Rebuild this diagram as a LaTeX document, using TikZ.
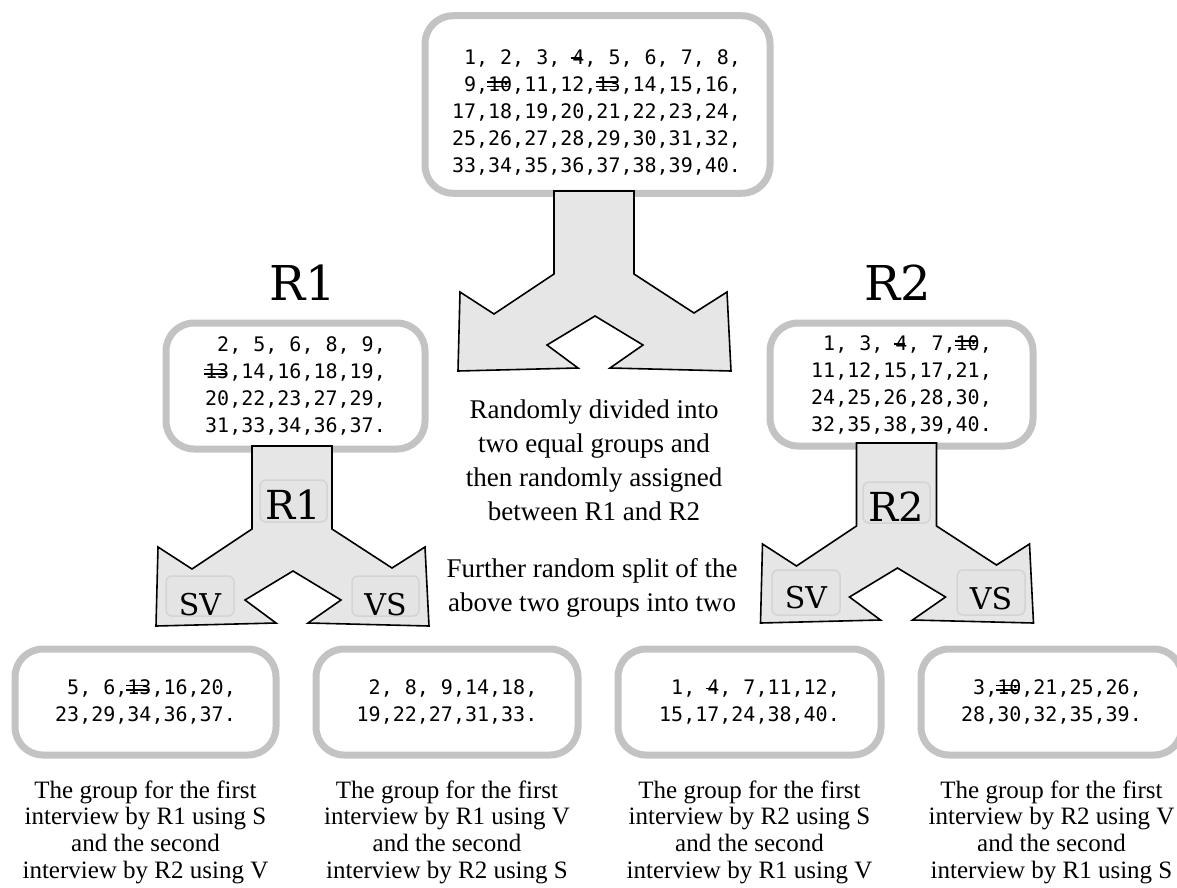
\documentclass[tikz,border=0pt]{standalone}
\usepackage{fontspec}
\setmainfont{Liberation Serif}
\setmonofont{DejaVu Sans Mono}
\newfontfamily\tagfont{DejaVu Serif}

\definecolor{boxgray}{RGB}{195,195,195}
\definecolor{arrowfill}{RGB}{230,230,230}
\definecolor{tagedge}{RGB}{212,212,212}
\definecolor{tagfill}{RGB}{228,228,228}

% crossed-out numbers
\newcommand\dblstrike[1]{\rlap{\kern-0.05em\rule[0.2em]{1.1em}{0.07em}}\rlap{\kern-0.05em\rule[0.42em]{1.1em}{0.07em}}#1}
\newcommand\onestrike[1]{\rlap{\kern-0.05em\rule[0.27em]{0.55em}{0.07em}}#1}
\newcommand\lead{\hphantom{0}}

\tikzset{
    pics/splitarrow/.style={code={
        \draw[arrowbody] (-40,0) -- (-40,83) -- (-100,123) -- (-134,101) -- (-136,180)
            -- (-16,177) -- (-47,154) -- (1,125) -- (49,154) -- (16,177)
            -- (137,180) -- (133,101) -- (100,122) -- (40,83) -- (40,0) -- cycle;
    }}
}

\begin{document}
\begin{tikzpicture}[
        x=1pt, y=-1pt,
        groupbox/.style={draw=boxgray, line width=7pt, rounded corners=28pt, fill=white, inner sep=0pt},
        numtext/.style={font=\ttfamily\fontsize{20}{27}\selectfont, align=left},
        arrowbody/.style={draw=black, line width=1.6pt, fill=arrowfill, line join=miter},
        tagbox/.style={draw=tagedge, line width=1.5pt, rounded corners=6pt, fill=tagfill},
        tagtext/.style={inner sep=0pt, font=\tagfont\fontsize{30}{30}\selectfont},
        bigname/.style={inner sep=0pt, font=\tagfont\fontsize{48}{48}\selectfont},
        midtext/.style={align=center, inner sep=0pt, font=\fontsize{27}{34}\selectfont},
        captext/.style={align=center, inner sep=0pt, font=\fontsize{25}{26.7}\selectfont}
    ]
        \useasboundingbox (0,0) rectangle (1177,888);

        % All forty
        \node[groupbox, minimum width=345pt, minimum height=177.5pt] (allbox) at (597.5,104.5) {};
        \node[numtext] (alllist) at (596.5,112) {\lead1, 2, 3, \onestrike{4}, 5, 6, 7, 8,\\
            \lead9,\dblstrike{10},11,12,\dblstrike{13},14,15,16,\\
            17,18,19,20,21,22,23,24,\\
            25,26,27,28,29,30,31,32,\\
            33,34,35,36,37,38,39,40.};
        \pic (toparrow) at (594,191) {splitarrow};

        \node[midtext] (splitnote) at (594,460) {Randomly divided into\\two equal groups and\\then randomly assigned\\between R1 and R2};
        \node[midtext] (furthernote) at (592,588) {Further random split of the\\above two groups into two};

        % R1 side
        \node[bigname, anchor=base] (r1name) at (303,300) {R1};
        \node[groupbox, numtext, minimum width=259pt, minimum height=126pt] (r1box) at (295.5,386)
            {\lead2, 5, 6, 8, 9,\\\dblstrike{13},14,16,18,19,\\20,22,23,27,29,\\31,33,34,36,37.};
        \pic (r1arrow) at (292,446) {splitarrow};
        \node[tagbox, minimum width=67pt, minimum height=42pt] (r1tag) at (293.5,501) {};
        \node[tagtext, font=\tagfont\fontsize{40}{40}\selectfont, anchor=base] (r1tagname) at (293.5,519) {R1};
        \node[tagbox, minimum width=68pt, minimum height=40pt] (r1svtag) at (200,596) {};
        \node[tagtext, anchor=base] (r1sv) at (200,615) {SV};
        \node[tagbox, minimum width=67pt, minimum height=40pt] (r1vstag) at (385.5,596) {};
        \node[tagtext, anchor=base] (r1vs) at (385.5,615) {VS};

        % R2 side
        \node[bigname, anchor=base] (r2name) at (898,300) {R2};
        \node[groupbox, numtext, minimum width=263pt, minimum height=123pt] (r2box) at (901.5,384.5)
            {\lead1, 3, \onestrike{4}, 7,\dblstrike{10},\\11,12,15,17,21,\\24,25,26,28,30,\\32,35,38,39,40.};
        \pic (r2arrow) at (896.5,443) {splitarrow};
        \node[tagbox, minimum width=67pt, minimum height=41pt] (r2tag) at (896.5,502.5) {};
        \node[tagtext, font=\tagfont\fontsize{40}{40}\selectfont, anchor=base] (r2tagname) at (896.5,521) {R2};
        \node[tagbox, minimum width=68pt, minimum height=45pt] (r2svtag) at (806,592.5) {};
        \node[tagtext, anchor=base] (r2sv) at (806,608) {SV};
        \node[tagbox, minimum width=68pt, minimum height=45pt] (r2vstag) at (991,592.5) {};
        \node[tagtext, anchor=base] (r2vs) at (991,609) {VS};

        % Final four groups
        \node[groupbox, numtext, minimum width=261pt, minimum height=106pt] (grpa) at (145.5,702)
            {\lead5, 6,\dblstrike{13},16,20,\\23,29,34,36,37.};
        \node[groupbox, numtext, minimum width=262pt, minimum height=106pt] (grpb) at (447,702)
            {\lead2, 8, 9,14,18,\\19,22,27,31,33.};
        \node[groupbox, numtext, minimum width=263pt, minimum height=106pt] (grpc) at (749.5,702)
            {\lead1, \onestrike{4}, 7,11,12,\\15,17,24,38,40.};
        \node[groupbox, numtext, minimum width=261pt, minimum height=106pt] (grpd) at (1051.5,702)
            {\lead3,\dblstrike{10},21,25,26,\\28,30,32,35,39.};

        \node[captext] (capa) at (145.5,832) {The group for the first\\interview by R1 using S\\and the second\\interview by R2 using V};
        \node[captext] (capb) at (447,832) {The group for the first\\interview by R1 using V\\and the second\\interview by R2 using S};
        \node[captext] (capc) at (749.5,832) {The group for the first\\interview by R2 using S\\and the second\\interview by R1 using V};
        \node[captext] (capd) at (1051.5,832) {The group for the first\\interview by R2 using V\\and the second\\interview by R1 using S};
    \end{tikzpicture}
\end{document}
